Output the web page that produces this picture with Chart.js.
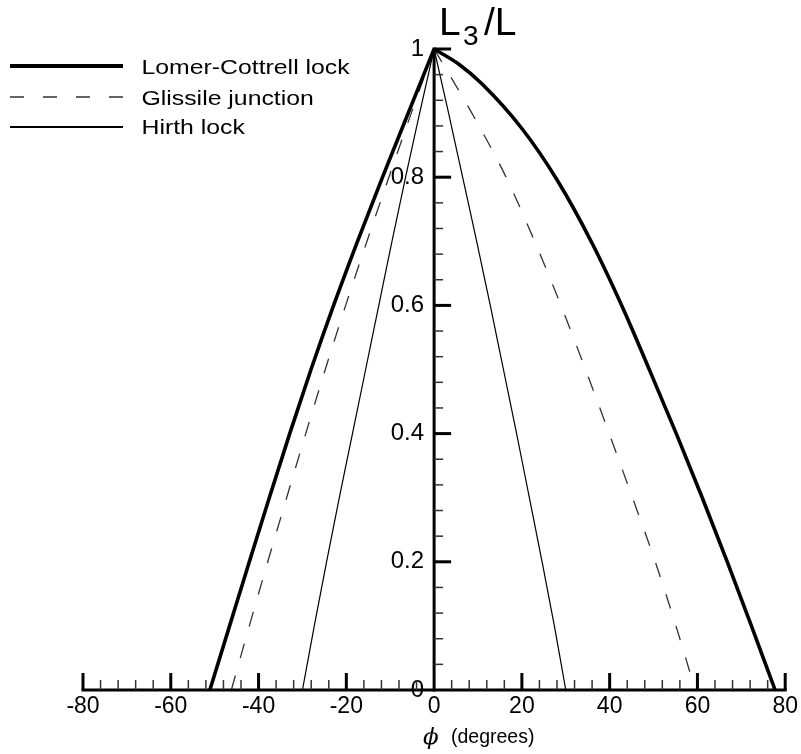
<!DOCTYPE html>
<html>
<head>
<meta charset="utf-8">
<script src="https://cdn.jsdelivr.net/npm/chart.js@4/dist/chart.umd.min.js"></script>
<style>
  html, body { margin: 0; padding: 0; background: #ffffff; }
  #wrap { width: 801px; height: 754px; }
</style>
</head>
<body>
<div id="wrap"><canvas id="c" width="801" height="754"></canvas></div>
<script>
// ---- data ----
const seriesNames = ['Lomer-Cottrell lock', 'Glissile junction', 'Hirth lock'];

// Lomer-Cottrell lock
const lcLeftPhi  = [-51.1, -46.6, -42.1, -37.55, -32.9, -28.05, -22.9, -17.45, -11.75, -5.9, 0];
const lcLeftVal  = [0, 0.1, 0.2, 0.3, 0.4, 0.5, 0.6, 0.7, 0.8, 0.9, 1];
const lcRightPhi = [0, 5.5, 11.0, 20.0, 28.0, 36.0, 43.0, 49.4, 55.3, 61.1, 66.8, 72.3, 77.7];
const lcRightVal = [1, 0.977, 0.945, 0.876, 0.796, 0.697, 0.596, 0.494, 0.398, 0.3, 0.2, 0.1, 0];

// Glissile junction
const glLeftPhi  = [-46.2, -42.1, -37.9, -33.6, -29.25, -24.8, -20.15, -15.3, -10.3, -5.2, 0];
const glLeftVal  = [0, 0.1, 0.2, 0.3, 0.4, 0.5, 0.6, 0.7, 0.8, 0.9, 1];
const glRightPhi = [0, 8.6, 16.4, 22.9, 28.9, 34.5, 39.9, 45.2, 50.4, 55.1, 59.5];
const glRightVal = [1, 0.9, 0.8, 0.7, 0.6, 0.5, 0.4, 0.3, 0.2, 0.1, 0];

// Hirth lock
const hiLeftPhi  = [-30.0, -27.3, -24.5, -21.6, -18.6, -15.6, -12.6, -9.6, -6.5, -3.3, 0];
const hiLeftVal  = [0, 0.1, 0.2, 0.3, 0.4, 0.5, 0.6, 0.7, 0.8, 0.9, 1];
const hiRightPhi = [0, 3.3, 6.5, 9.7, 12.8, 15.8, 18.8, 21.7, 24.6, 27.4, 30.0];
const hiRightVal = [1, 0.9, 0.8, 0.7, 0.6, 0.5, 0.4, 0.3, 0.2, 0.1, 0];

// axes
const xTickValues = [-80, -60, -40, -20, 0, 20, 40, 60, 80];
const yTickValues = [0, 0.2, 0.4, 0.6, 0.8, 1];
const xMinorStep = 4;
const yMinorStep = 0.04;

// ---- chart ----
function pts(xs, ys) { return xs.map((x, i) => ({ x: x, y: ys[i] })); }

const styleLC = { borderColor: '#000', borderWidth: 3.6, borderDash: [] };
const styleGL = { borderColor: '#333', borderWidth: 1.3, borderDash: [15, 18] };
const styleHI = { borderColor: '#000', borderWidth: 1.2, borderDash: [] };

function ds(label, data, st) {
  return Object.assign({
    label: label, data: data, pointRadius: 0, fill: false, clip: false,
    cubicInterpolationMode: 'monotone'
  }, st);
}

const datasets = [
  ds(seriesNames[0], pts(lcLeftPhi, lcLeftVal), styleLC),
  ds(seriesNames[0], pts(lcRightPhi, lcRightVal), styleLC),
  ds(seriesNames[1], pts(glLeftPhi, glLeftVal), styleGL),
  ds(seriesNames[1], pts(glRightPhi, glRightVal), styleGL),
  ds(seriesNames[2], pts(hiLeftPhi, hiLeftVal), styleHI),
  ds(seriesNames[2], pts(hiRightPhi, hiRightVal), styleHI)
];

const SANS = '"Liberation Sans", Arial, Helvetica, sans-serif';

// shift y tick labels to the left of the centred axis
const yLabelGap = 10;
const shiftLabels = {
  id: 'shiftLabels',
  beforeDraw(chart) {
    const ys = chart.scales.y;
    if (!ys || typeof ys.getLabelItems !== 'function') return;
    const items = ys.getLabelItems(chart.chartArea);
    if (items && !items._shifted) {
      items.forEach(it => {
        if (it.options && it.options.translation) it.options.translation[0] -= yLabelGap;
      });
      items._shifted = true;
    }
  }
};

const decor = {
  id: 'decor',
  afterDatasetsDraw(chart) {
    const ctx = chart.ctx;
    const xs = chart.scales.x, ys = chart.scales.y;
    const y0 = ys.getPixelForValue(0);
    const x0 = xs.getPixelForValue(0);
    ctx.save();
    ctx.strokeStyle = '#000';
    ctx.lineCap = 'butt';
    // axis lines
    ctx.lineWidth = 3;
    ctx.beginPath();
    ctx.moveTo(xs.getPixelForValue(xs.min) - 1.5, y0);
    ctx.lineTo(xs.getPixelForValue(xs.max) + 1.5, y0);
    ctx.stroke();
    ctx.beginPath();
    ctx.moveTo(x0, y0 + 1.5);
    ctx.lineTo(x0, ys.getPixelForValue(ys.max) - 1.5);
    ctx.stroke();
    // x ticks (upward)
    const nx = Math.round((xs.max - xs.min) / xMinorStep);
    for (let i = 0; i <= nx; i++) {
      const v = xs.min + i * xMinorStep;
      const major = xTickValues.includes(v);
      if (v === 0) continue;
      const px = xs.getPixelForValue(v);
      ctx.lineWidth = major ? 3 : 1.5;
      ctx.strokeStyle = major ? '#000' : '#333';
      ctx.beginPath();
      ctx.moveTo(px, y0);
      ctx.lineTo(px, y0 - (major ? 17 : 10));
      ctx.stroke();
    }
    // y ticks (to the right)
    const ny = Math.round((ys.max - ys.min) / yMinorStep);
    for (let i = 1; i <= ny; i++) {
      const v = ys.min + i * yMinorStep;
      const major = i % 5 === 0;
      const py = ys.getPixelForValue(v);
      ctx.lineWidth = major ? 3 : 1.5;
      ctx.strokeStyle = major ? '#000' : '#333';
      ctx.beginPath();
      ctx.moveTo(x0, py);
      ctx.lineTo(x0 + (major ? 17 : 9), py);
      ctx.stroke();
    }

    // legend
    const styles = [styleLC, styleGL, styleHI];
    const legendLineW = [4, 1.3, 2];
    const rows = [66, 97, 127];
    const base = [74, 104.5, 134];
    for (let k = 0; k < 3; k++) {
      ctx.strokeStyle = styles[k].borderColor;
      ctx.lineWidth = legendLineW[k];
      ctx.setLineDash(styles[k].borderDash.length ? [14, 19] : []);
      ctx.beginPath();
      ctx.moveTo(10, rows[k]);
      ctx.lineTo(123, rows[k]);
      ctx.stroke();
      ctx.setLineDash([]);
      ctx.save();
      ctx.translate(141.5, base[k]);
      ctx.scale(1.21, 1);
      ctx.fillStyle = '#000';
      ctx.font = '20.5px ' + SANS;
      ctx.textBaseline = 'alphabetic';
      ctx.textAlign = 'left';
      ctx.fillText(seriesNames[k], 0, 0);
      ctx.restore();
    }

    // y-axis title L3/L
    ctx.fillStyle = '#000';
    ctx.textBaseline = 'alphabetic';
    ctx.textAlign = 'left';
    ctx.font = '39px ' + SANS;
    ctx.fillText('L', 439, 35);
    ctx.font = '28px ' + SANS;
    ctx.fillText('3', 463, 45);
    ctx.font = '39px ' + SANS;
    ctx.fillText('/L', 484, 35);

    // x-axis title
    ctx.font = 'italic 23px "DejaVu Serif", "Liberation Serif", serif';
    ctx.fillText('\u03D5', 423, 744);
    ctx.font = '19.5px ' + SANS;
    ctx.fillText('(degrees)', 451, 743);
    ctx.restore();
  }
};

new Chart(document.getElementById('c').getContext('2d'), {
  type: 'line',
  data: { datasets: datasets },
  options: {
    responsive: false,
    animation: false,
    events: [],
    layout: { padding: { left: 83, right: 14, top: 49, bottom: 64 } },
    plugins: { legend: { display: false }, tooltip: { enabled: false }, title: { display: false } },
    elements: { point: { radius: 0 } },
    scales: {
      x: {
        type: 'linear', position: { y: 0 }, min: -80, max: 80,
        grid: { display: false, drawTicks: false },
        border: { display: false },
        afterBuildTicks: (s) => { s.ticks = xTickValues.map(v => ({ value: v })); },
        ticks: { color: '#000', font: { family: SANS, size: 23 }, padding: 3, maxRotation: 0, autoSkip: false,
                 callback: (v) => String(v) }
      },
      y: {
        type: 'linear', position: { x: 0 }, min: 0, max: 1,
        grid: { display: false, drawTicks: false },
        border: { display: false },
        afterBuildTicks: (s) => { s.ticks = yTickValues.map(v => ({ value: v })); },
        ticks: { color: '#000', font: { family: SANS, size: 24 }, padding: 10, autoSkip: false,
                 callback: (v) => String(v) }
      }
    }
  },
  plugins: [shiftLabels, decor]
});
</script>
</body>
</html>
